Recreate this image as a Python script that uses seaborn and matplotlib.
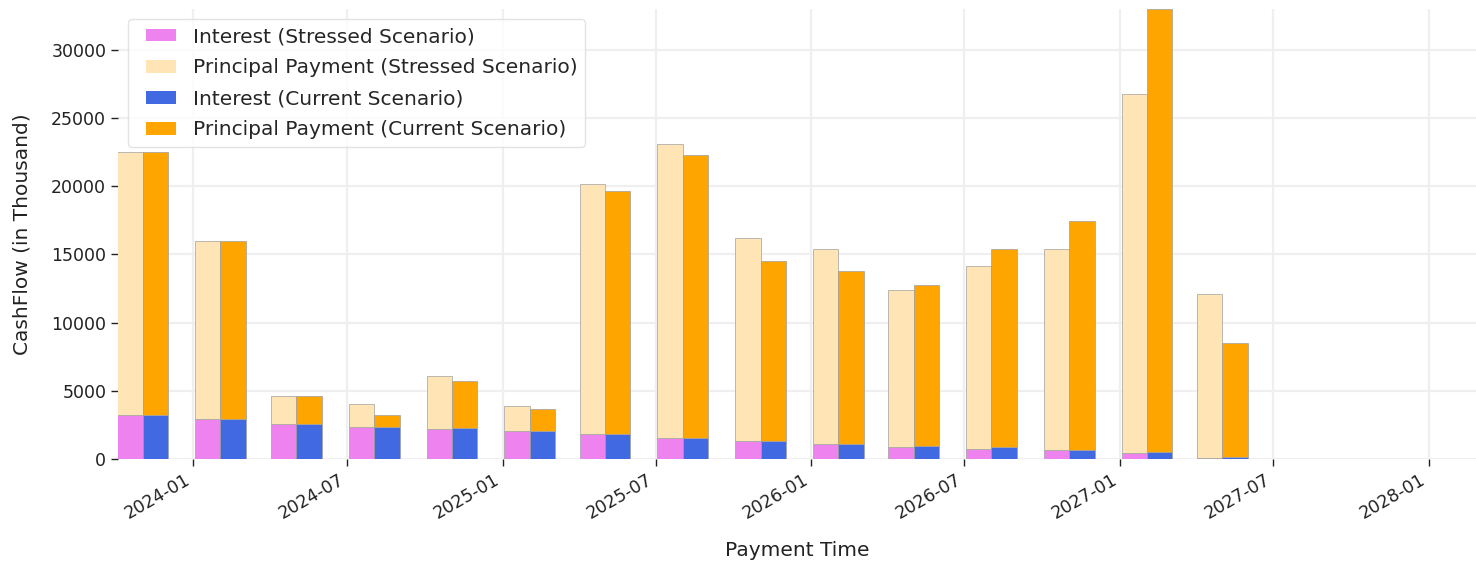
import matplotlib
matplotlib.use("Agg")
import matplotlib.pyplot as plt
import matplotlib.dates as mdates
from matplotlib.patches import Rectangle
from matplotlib.container import BarContainer
from matplotlib.legend_handler import HandlerPatch, update_from_first_child
import seaborn as sns
import pandas as pd
import numpy as np

payment_dates = ["2023-11-02", "2024-02-02", "2024-05-02", "2024-08-02", "2024-11-02",
                 "2025-02-02", "2025-05-02", "2025-08-02", "2025-11-02", "2026-02-02",
                 "2026-05-02", "2026-08-02", "2026-11-02", "2027-02-02", "2027-05-02"]

interest_stressed = [3230, 2910, 2590, 2370, 2180, 2050, 1820, 1520, 1300, 1080, 860, 760, 650, 420, 100]
total_stressed = [22520, 15990, 4620, 4010, 6090, 3860, 20180, 23110, 16210, 15410, 12400, 14160, 15410, 26760, 12080]
interest_current = [3230, 2910, 2590, 2370, 2270, 2050, 1830, 1520, 1300, 1080, 980, 880, 660, 540, 120]
total_current = [22520, 15990, 4620, 3250, 5700, 3670, 19660, 22300, 14530, 13790, 12770, 15410, 17460, 33000, 8530]

df = pd.DataFrame({
    "date": pd.to_datetime(payment_dates),
    "int_s": interest_stressed,
    "prin_s": np.array(total_stressed) - np.array(interest_stressed),
    "int_c": interest_current,
    "prin_c": np.array(total_current) - np.array(interest_current),
})

sns.set_theme(style="whitegrid")
plt.rcParams["font.family"] = ["DejaVu Sans"]

fig = plt.figure(figsize=(14.76, 5.61), dpi=100)
ax = fig.add_axes([118 / 1476, 1 - 459 / 561, 1 - 118 / 1476, (459 - 9) / 561])

w = pd.Timedelta(days=30)
edge = dict(edgecolor="#a0a0a0", linewidth=0.5)
ax.bar(df["date"], df["int_s"], width=-w, align="edge", color="violet",
       label="Interest (Stressed Scenario)", **edge)
ax.bar(df["date"], df["prin_s"], width=-w, align="edge", bottom=df["int_s"], color="moccasin",
       label="Principal Payment (Stressed Scenario)", **edge)
ax.bar(df["date"], df["int_c"], width=w, align="edge", color="royalblue",
       label="Interest (Current Scenario)", **edge)
ax.bar(df["date"], df["prin_c"], width=w, align="edge", bottom=df["int_c"], color="orange",
       label="Principal Payment (Current Scenario)", **edge)

ax.set_xlim(pd.Timestamp("2023-10-04"), pd.Timestamp("2028-02-26"))
ax.set_ylim(0, 33000)
ax.xaxis.set_major_locator(mdates.MonthLocator(bymonth=[1, 7]))
ax.xaxis.set_major_formatter(mdates.DateFormatter("%Y-%m"))
ax.set_yticks([0, 5000, 10000, 15000, 20000, 25000, 30000])

for s in ax.spines.values():
    s.set_visible(False)
ax.grid(True, color="#efefef", linewidth=1.6)
ax.set_axisbelow(True)
ax.tick_params(axis="both", which="major", length=5, width=1, color="#222222",
               labelsize=12.5, labelcolor="#222222", bottom=True, left=True)
plt.setp(ax.get_xticklabels(), rotation=30, ha="right")

ax.set_xlabel("Payment Time", fontsize=14.5, color="#222222")
ax.set_ylabel("CashFlow (in Thousand)", fontsize=14.5, color="#222222")
ax.yaxis.set_label_coords(-0.064, 0.5)
ax.xaxis.set_label_coords(0.5, -0.182)


def narrow_patch(legend, orig_handle, xdescent, ydescent, width, height, fontsize):
    return Rectangle((-xdescent + width * 0.25, -ydescent + height * 0.05), width * 0.75, height * 0.9)


leg = ax.legend(loc="upper left", fontsize=14.5, frameon=True, borderaxespad=0.5,
                labelspacing=0.6,
                handler_map={BarContainer: HandlerPatch(patch_func=narrow_patch,
                                                        update_func=update_from_first_child)})
leg.get_frame().set_edgecolor("#dddddd")
for h in leg.legend_handles:
    h.set_linewidth(0)

fig.savefig("out.png", dpi=100)
